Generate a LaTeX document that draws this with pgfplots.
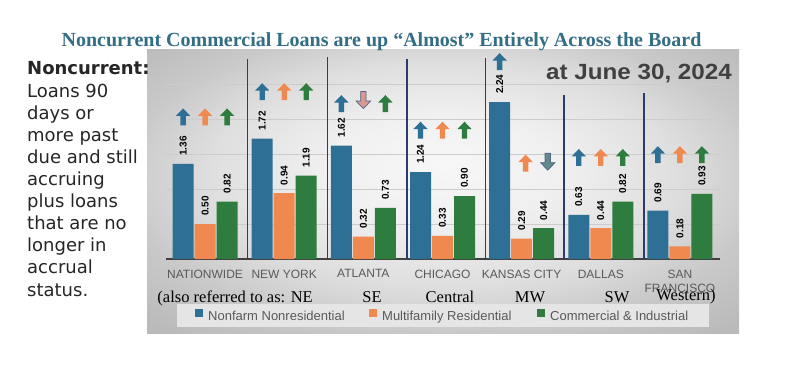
\documentclass[border=0pt]{standalone}
\usepackage{pgfplots}
\pgfplotsset{compat=1.18}
\usepackage{fontspec}
\setmainfont{Liberation Sans}
\newfontfamily\titlefont{Liberation Serif}
\newfontfamily\dvs{DejaVu Sans}

\definecolor{cblue}{HTML}{2E6F95}
\definecolor{corange}{HTML}{F0894F}
\definecolor{cgreen}{HTML}{2E7D3E}
\definecolor{ctitle}{HTML}{336E85}
\definecolor{cnavy}{HTML}{2B3B6B}
\definecolor{clabel}{HTML}{595959}
\definecolor{cpink}{HTML}{D69A8E}
\definecolor{cslate}{HTML}{5E8B8C}
\definecolor{cdark}{HTML}{404040}

\newcommand{\barlab}{\pgfmathprintnumber[fixed, fixed zerofill, precision=2, assume math mode=true]{\pgfplotspointmeta}}
\tikzset{barlabel/.style={rotate=90, anchor=west, font=\bfseries\fontsize{10}{12}\selectfont, text=black, inner xsep=8pt, inner ysep=0pt}}

\pgfdeclareplotmark{uparr}{%
  \pgfpathmoveto{\pgfpoint{0pt}{8.5pt}}%
  \pgfpathlineto{\pgfpoint{7.2pt}{1pt}}%
  \pgfpathlineto{\pgfpoint{2.7pt}{1pt}}%
  \pgfpathlineto{\pgfpoint{2.7pt}{-8.5pt}}%
  \pgfpathlineto{\pgfpoint{-2.7pt}{-8.5pt}}%
  \pgfpathlineto{\pgfpoint{-2.7pt}{1pt}}%
  \pgfpathlineto{\pgfpoint{-7.2pt}{1pt}}%
  \pgfpathclose
  \pgfusepathqfill}
\pgfdeclareplotmark{downarr}{%
  \pgfpathmoveto{\pgfpoint{0pt}{-8.5pt}}%
  \pgfpathlineto{\pgfpoint{7.2pt}{-1pt}}%
  \pgfpathlineto{\pgfpoint{2.7pt}{-1pt}}%
  \pgfpathlineto{\pgfpoint{2.7pt}{8.5pt}}%
  \pgfpathlineto{\pgfpoint{-2.7pt}{8.5pt}}%
  \pgfpathlineto{\pgfpoint{-2.7pt}{-1pt}}%
  \pgfpathlineto{\pgfpoint{-7.2pt}{-1pt}}%
  \pgfpathclose
  \pgfusepathqfillstroke}

\pgfdeclareradialshading{panel}{\pgfpoint{0bp}{5bp}}{color(0bp)=(white!97!black); color(10bp)=(white!94!black); color(20bp)=(white!87!black); color(27bp)=(white!79!black); color(35bp)=(white!73!black); color(50bp)=(white!70!black)}

\begin{document}
\begin{tikzpicture}
\path[use as bounding box, fill=white] (0pt,0pt) rectangle (791pt,364pt);
% panel
\shade[shading=panel] (147pt,31pt) rectangle (739pt,314pt);
% legend background
\fill[white!90!black] (177pt,37pt) rectangle (709pt,60pt);

\begin{axis}[
  at={(165.5pt,105pt)}, anchor=south west,
  scale only axis, width=554pt, height=203pt,
  xmin=-0.5, xmax=6.5, ymin=0, ymax=2.9,
  axis x line*=bottom, axis y line*=left,
  x axis line style={cdark, line width=1.2pt, -},
  y axis line style={draw=none},
  ytick={0.5,1,1.5,2,2.5}, yticklabels={},
  ymajorgrids, grid style={color=black!20, line width=0.9pt},
  xtick={0,...,6},
  xticklabels={NATIONWIDE, NEW YORK, ATLANTA, CHICAGO, KANSAS CITY, DALLAS, {SAN\\FRANCISCO}},
  xticklabel style={align=center, font=\fontsize{12}{14}\selectfont, text=clabel, inner sep=0pt, anchor=north, yshift=-10.5pt},
  major tick length=0pt,
  clip=false,
  legend columns=3,
  legend style={at={(axis description cs:0.0532,-0.278)}, anchor=west, fill=none, draw=none,
    font=\fontsize{13}{15}\selectfont, text=clabel, inner sep=0pt,
    nodes={inner sep=0pt},
    /tikz/every odd column/.append style={column sep=5pt},
    /tikz/every even column/.append style={column sep=21pt}},
]
\addplot[ybar, bar width=21pt, bar shift=-22pt, fill=cblue, draw=none, nodes near coords={\barlab},
  every node near coord/.style={xshift=-22pt, barlabel},
  legend image code/.code={\fill[cblue] (0pt,-1pt) rectangle (8pt,7pt);}]
  coordinates {(0,1.36) (1,1.72) (2,1.62) (3,1.24) (4,2.24) (5,0.63) (6,0.69)};
\addlegendentry{\makebox[140pt][l]{Nonfarm Nonresidential}}
\addplot[ybar, bar width=21pt, bar shift=0pt, fill=corange, draw=none, nodes near coords={\barlab},
  every node near coord/.style={barlabel},
  legend image code/.code={\fill[corange] (0pt,-1pt) rectangle (8pt,7pt);}]
  coordinates {(0,0.50) (1,0.94) (2,0.32) (3,0.33) (4,0.29) (5,0.44) (6,0.18)};
\addlegendentry{\makebox[134pt][l]{Multifamily Residential}}
\addplot[ybar, bar width=21pt, bar shift=22pt, fill=cgreen, draw=none, nodes near coords={\barlab},
  every node near coord/.style={xshift=22pt, barlabel},
  legend image code/.code={\fill[cgreen] (0pt,-1pt) rectangle (8pt,7pt);}]
  coordinates {(0,0.82) (1,1.19) (2,0.73) (3,0.90) (4,0.44) (5,0.82) (6,0.93)};
\addlegendentry{\makebox[141pt][l]{Commercial \& Industrial}}

% separators
\addplot[cnavy, line width=1.3pt, forget plot, no markers] coordinates {(0.54,0) (0.54,2.86)};
\addplot[cnavy, line width=1.3pt, forget plot, no markers] coordinates {(1.55,0) (1.55,2.89)};
\addplot[cnavy, line width=1.3pt, forget plot, no markers] coordinates {(2.55,0) (2.55,2.86)};
\addplot[cnavy, line width=1.3pt, forget plot, no markers] coordinates {(3.54,0) (3.54,2.87)};
\addplot[cnavy, line width=1.3pt, forget plot, no markers] coordinates {(4.535,0) (4.535,2.34)};
\addplot[cnavy, line width=1.3pt, forget plot, no markers] coordinates {(5.546,0) (5.546,2.37)};

% change arrows
\addplot[only marks, mark=uparr, color=cblue, forget plot]
  coordinates {(-0.278,2.03) (0.722,2.39) (1.722,2.22) (2.722,1.84) (3.722,2.82) (4.722,1.45) (5.722,1.49)};
\addplot[only marks, mark=uparr, color=corange, forget plot]
  coordinates {(0,2.03) (1,2.39) (3,1.84) (4.05,1.37) (5,1.45) (6,1.49)};
\addplot[only marks, mark=uparr, color=cgreen, forget plot]
  coordinates {(0.278,2.03) (1.278,2.39) (2.278,2.22) (3.278,1.84) (5.278,1.45) (6.278,1.49)};
\addplot[only marks, mark=downarr, mark options={fill=cpink, draw=cnavy!80, line width=0.7pt}, forget plot]
  coordinates {(2,2.27)};
\addplot[only marks, mark=downarr, mark options={fill=cslate, draw=cnavy!80, line width=0.7pt}, forget plot]
  coordinates {(4.33,1.39)};
\end{axis}

% title
\node[anchor=base, inner sep=0pt, font=\titlefont\bfseries\fontsize{20}{24}\selectfont, text=ctitle]
  at (381.5pt,317.5pt) {Noncurrent Commercial Loans are up “Almost” Entirely Across the Board};
% date
\node[anchor=base east, inner sep=0pt, font=\bfseries\fontsize{22}{26}\selectfont, text=cdark]
  at (732pt,284pt) {\scalebox{1.1}[1]{at June 30, 2024}};
% side text
\foreach \t [count=\i from 0] in {{\bfseries Noncurrent:}, Loans 90, days or, more past, due and still, accruing, plus loans, that are no, longer in, accrual, status.}
  \node[anchor=base west, inner sep=0pt, font=\dvs\fontsize{18}{22}\selectfont, text=black!85] at (27pt,{289pt-\i*22.1pt}) {\t};
% region names
\begin{scope}[every node/.style={anchor=base, inner sep=0pt, font=\titlefont\fontsize{16.5}{18}\selectfont}]
\node[anchor=base east] at (313pt,62pt) {(also referred to as: NE};
\node at (372pt,62pt) {SE};
\node at (450pt,62pt) {Central};
\node at (530pt,62pt) {MW};
\node at (617pt,62pt) {SW};
\node at (686pt,64pt) {Western)};
\end{scope}
\end{tikzpicture}
\end{document}
